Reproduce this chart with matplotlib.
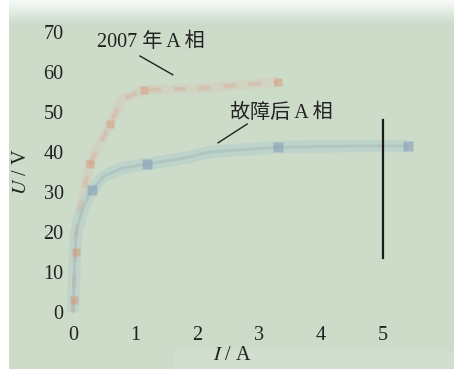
import numpy as np
import matplotlib
matplotlib.use("Agg")
import matplotlib.pyplot as plt
from matplotlib.patches import Rectangle

plt.rcParams['font.family'] = ['Liberation Serif', 'Noto Sans CJK SC', 'DejaVu Sans']
plt.rcParams['mathtext.fontset'] = 'stix'

# Volt-ampere characteristics of phase A
i_2007 = [0, 0.02, 0.04, 0.07, 0.27, 0.6, 0.78, 1.15, 2.1, 3.3]
u_2007 = [0, 8, 16, 23, 37, 47, 53, 55.5, 56, 57.5]

i_fault = [0, 0.02, 0.05, 0.16, 0.3, 0.5, 0.8, 1.2, 1.8, 2.2, 3.3, 4.5, 5.4]
u_fault = [0, 10, 20, 26, 30.5, 34, 36, 37, 38.5, 40, 41.2, 41.5, 41.5]

x_ticks = [0, 1, 2, 3, 4, 5]
y_ticks = [0, 10, 20, 30, 40, 50, 60, 70]

marker_i_2007 = [0.02, 0.05, 0.27, 0.6, 1.15, 3.3]
marker_u_2007 = [3, 15, 37, 47, 55.5, 57.5]
marker_i_fault = [0.3, 1.2, 3.3, 5.4]
marker_u_fault = [30.5, 37, 41.2, 41.5]

limit_i = 5.0
limit_u = (13.5, 48)

W, H = 454, 373
fig = plt.figure(figsize=(W / 100, H / 100), dpi=100, facecolor='white')

# paper background with a light fade at the top
bg = fig.add_axes([9 / W, 4 / H, 1 - 9 / W, 1 - 4 / H])
green = np.array([0.804, 0.859, 0.792])
rows = 369
grad = np.ones((rows, 1, 3)) * green
for r in range(26):
    t = min(1.0, r / 24.0)
    grad[r, 0, :] = (1 - t) * np.array([0.97, 0.985, 0.97]) + t * np.array([0.80, 0.855, 0.80])
bg.imshow(grad, aspect='auto', extent=[0, 1, 0, 1], interpolation='bilinear')
bg.add_patch(Rectangle((0.37, 0.0), 0.63, 0.05, color='#d2dfcf', lw=0))
bg.set_xlim(0, 1)
bg.set_ylim(0, 1)
bg.axis('off')

# plotting area
x0, x1 = -0.15, 6.0
y0, y1 = -2, 71
px_per_i, px_per_u = 62.0, 4.0
left = 73 + x0 * px_per_i
right = 73 + x1 * px_per_i
bottom = 312 - y0 * px_per_u
top = 312 - y1 * px_per_u
ax = fig.add_axes([left / W, (H - bottom) / H, (right - left) / W, (bottom - top) / H])
ax.patch.set_alpha(0)
ax.set_xlim(x0, x1)
ax.set_ylim(y0, y1)
for s in ax.spines.values():
    s.set_visible(False)
ax.set_xticks(x_ticks)
ax.set_yticks(y_ticks)
ax.tick_params(length=0, labelsize=14.5, colors='#222222')
ax.tick_params(axis='x', pad=4)
ax.tick_params(axis='y', pad=0)

# soft, scanned-looking curves
ax.plot(i_2007, u_2007, color='#d5cdbd', lw=7, alpha=0.5, solid_capstyle='butt', zorder=2)
ax.plot(i_2007, u_2007, color='#d9a58c', lw=3, alpha=0.35, dashes=(3, 3), zorder=3)
ax.plot(marker_i_2007, marker_u_2007, 's', color='#d8906c', ms=5.5, alpha=0.45, mec='none', zorder=4)

ax.plot(i_fault, u_fault, color='#b9d2cd', lw=9, alpha=0.7, solid_capstyle='butt', zorder=2)
ax.plot(i_fault, u_fault, color='#9fb6b6', lw=2.2, alpha=0.45, zorder=3)
ax.plot(marker_i_fault, marker_u_fault, 's', color='#8a9dba', ms=6.5, alpha=0.6, mec='none', zorder=4)

# vertical marker line
ax.plot([limit_i, limit_i], limit_u, color='#1a1a1a', lw=1.6, zorder=5)

# curve annotations
ax.text(0.38, 67.3, '2007 年 A 相', fontsize=14.5, va='center', ha='left', color='#222222')
ax.plot([1.08, 1.61], [64, 59.3], color='#222222', lw=1.0)
ax.text(2.53, 49.8, '故障后 A 相', fontsize=14.5, va='center', ha='left', color='#222222')
ax.plot([2.34, 2.81], [42.3, 47], color='#222222', lw=1.0)

# axis titles
fig.text(22 / W, 1 - 172 / H, '$U$ / V', rotation=90, fontsize=14.5, ha='center', va='center', color='#222222')
fig.text(232 / W, 1 - 355 / H, '$I$ / A', fontsize=14.5, ha='center', va='center', color='#222222')

fig.savefig('out.png', dpi=100, facecolor='white')
